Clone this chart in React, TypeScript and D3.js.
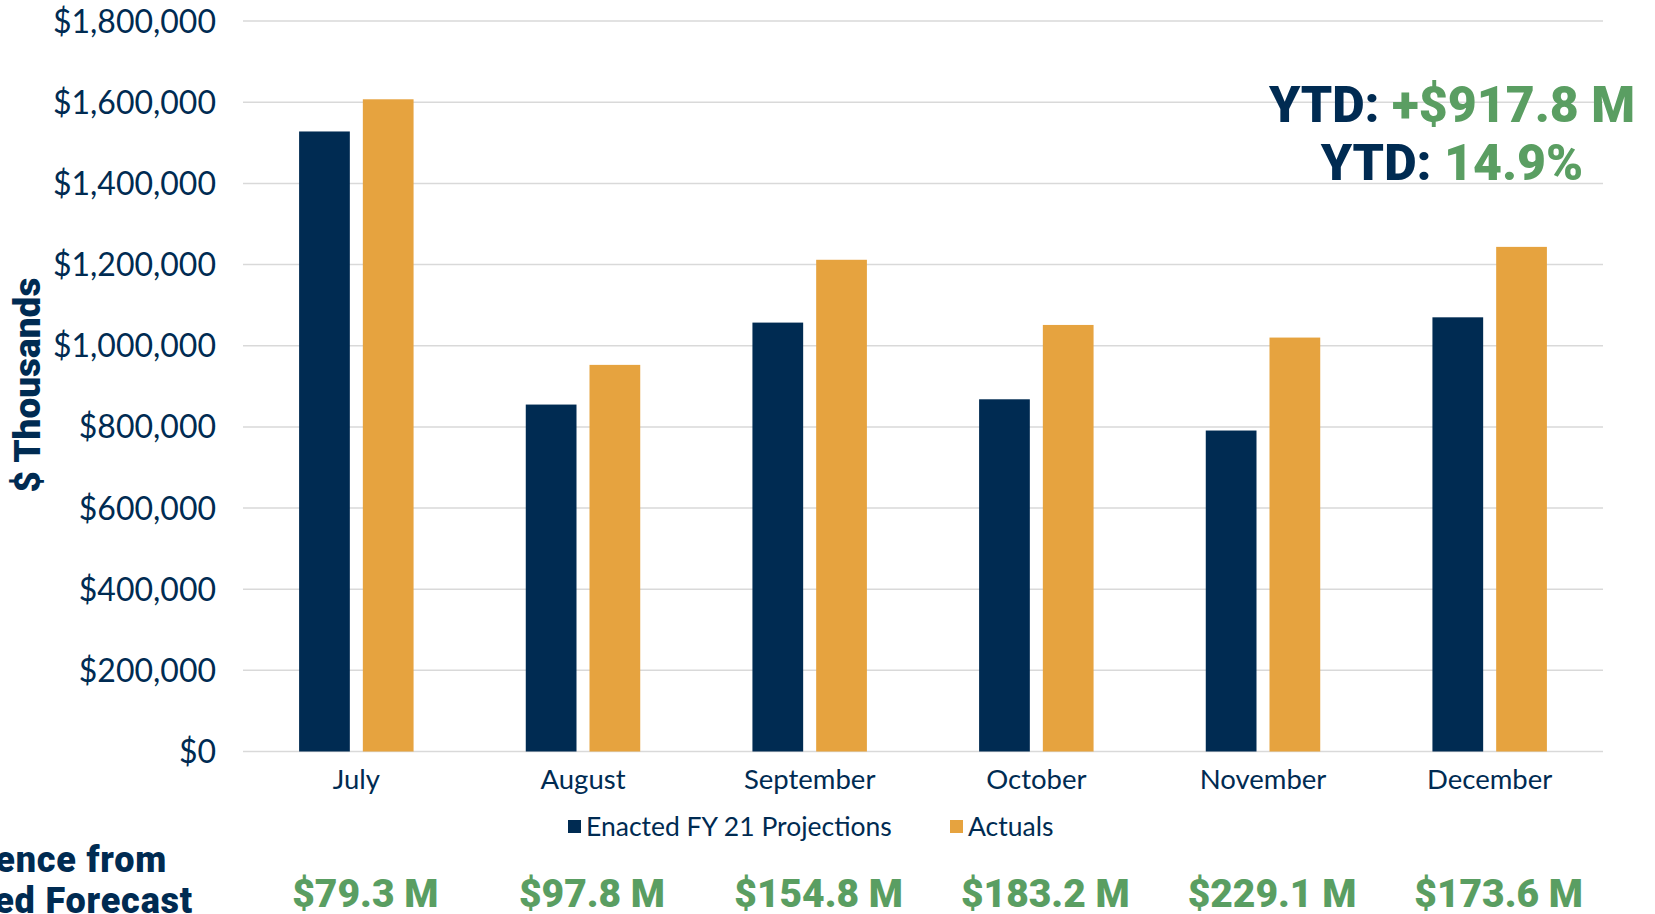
import React, { useEffect, useRef } from "react";
import * as d3 from "d3";

const categories = ["July", "August", "September", "October", "November", "December"];
const seriesNames = ["Enacted FY 21 Projections", "Actuals"];
const projections = [1528000, 855000, 1057000, 868000, 791000, 1070000];
const actuals = [1607300, 952800, 1211800, 1051200, 1020100, 1243600];
const differences = ["$79.3 M", "$97.8 M", "$154.8 M", "$183.2 M", "$229.1 M", "$173.6 M"];
const yTicks = [0, 200000, 400000, 600000, 800000, 1000000, 1200000, 1400000, 1600000, 1800000];

const NAVY = "#002b52";
const ORANGE = "#e6a33f";
const GREEN = "#5a9e62";
const GRID = "#d9d9d9";
const FONT = "Lato, 'Open Sans', sans-serif";
const HEAVY = "Roboto, 'Open Sans', sans-serif";

export default function App() {
  const ref = useRef<SVGSVGElement>(null);

  useEffect(() => {
    const svg = d3.select(ref.current);
    svg.selectAll("*").remove();
    const W = 1655, H = 914;
    const left = 243, right = 1603, top = 21.1, bottom = 751.5;

    const y = d3.scaleLinear().domain([0, 1800000]).range([bottom, top]);
    const x0 = d3.scaleBand<string>().domain(categories).range([left, right]).paddingInner(0.495).paddingOuter(0.2475);
    const x1 = d3.scaleBand<string>().domain(seriesNames).range([0, x0.bandwidth()]).paddingInner(0.204);
    const colors = [NAVY, ORANGE];
    const valuesBySeries = [projections, actuals];

    // gridlines
    svg.append("g").selectAll("line").data(yTicks).join("line")
      .attr("x1", left).attr("x2", right)
      .attr("y1", d => y(d)).attr("y2", d => y(d))
      .attr("stroke", GRID).attr("stroke-width", 1.5);

    // y tick labels
    const fmt = d3.format("$,");
    svg.append("g").selectAll("text").data(yTicks).join("text")
      .attr("x", 216).attr("y", d => y(d))
      .attr("dy", "0.36em")
      .attr("text-anchor", "end")
      .attr("font-family", FONT).attr("font-size", 32).attr("fill", NAVY)
      .text(d => fmt(d));

    // bars
    valuesBySeries.forEach((vals, si) => {
      svg.append("g").selectAll("rect").data(vals).join("rect")
        .attr("x", (d, i) => (x0(categories[i]) as number) + (x1(seriesNames[si]) as number))
        .attr("y", d => y(d))
        .attr("width", x1.bandwidth())
        .attr("height", d => bottom - y(d))
        .attr("fill", colors[si]);
    });

    // x labels
    svg.append("g").selectAll("text").data(categories).join("text")
      .attr("x", d => (x0(d) as number) + x0.bandwidth() / 2)
      .attr("y", 789)
      .attr("text-anchor", "middle")
      .attr("font-family", FONT).attr("font-size", 27.5).attr("fill", NAVY)
      .text(d => d);

    // y axis title
    svg.append("text")
      .attr("transform", "translate(40,385) rotate(-90)")
      .attr("text-anchor", "middle")
      .attr("font-family", HEAVY).attr("font-weight", 900).attr("font-size", 37).attr("fill", NAVY)
      .text("$ Thousands");

    // legend
    const legendItems = [
      { name: seriesNames[0], color: NAVY, x: 568 },
      { name: seriesNames[1], color: ORANGE, x: 950 },
    ];
    const lg = svg.append("g");
    legendItems.forEach(it => {
      lg.append("rect").attr("x", it.x).attr("y", 820).attr("width", 13).attr("height", 13).attr("fill", it.color);
      lg.append("text").attr("x", it.x + 18).attr("y", 836)
        .attr("font-family", FONT).attr("font-size", 26.5).attr("fill", NAVY).text(it.name);
    });

    // YTD annotations
    const ytd = [
      { label: "YTD: ", value: "+$917.8 M", y: 122 },
      { label: "YTD: ", value: "14.9%", y: 180 },
    ];
    ytd.forEach(r => {
      const t = svg.append("text")
        .attr("x", 1452).attr("y", r.y)
        .attr("text-anchor", "middle")
        .attr("font-family", HEAVY).attr("font-weight", 900).attr("font-size", 50);
      t.append("tspan").attr("fill", NAVY).text(r.label);
      t.append("tspan").attr("fill", GREEN).text(r.value);
    });

    // difference row
    svg.append("text").attr("x", 167).attr("y", 872).attr("text-anchor", "end")
      .attr("font-family", HEAVY).attr("font-weight", 900).attr("font-size", 36)
      .attr("letter-spacing", 0.8).attr("fill", NAVY)
      .text("Difference from");
    svg.append("text").attr("x", 193).attr("y", 913).attr("text-anchor", "end")
      .attr("font-family", HEAVY).attr("font-weight", 900).attr("font-size", 36)
      .attr("letter-spacing", 0.8).attr("fill", NAVY)
      .text("Enacted Forecast");

    svg.append("g").selectAll("text").data(differences).join("text")
      .attr("x", (d, i) => (x0(categories[i]) as number) + x0.bandwidth() / 2 + 9)
      .attr("y", 907)
      .attr("text-anchor", "middle")
      .attr("font-family", HEAVY).attr("font-weight", 900).attr("font-size", 39).attr("fill", GREEN)
      .text(d => d);

    svg.attr("width", W).attr("height", H);
  }, []);

  return (
    <svg
      ref={ref}
      width={1655}
      height={914}
      style={{ position: "absolute", left: 0, top: 0, background: "#fff" }}
    />
  );
}
